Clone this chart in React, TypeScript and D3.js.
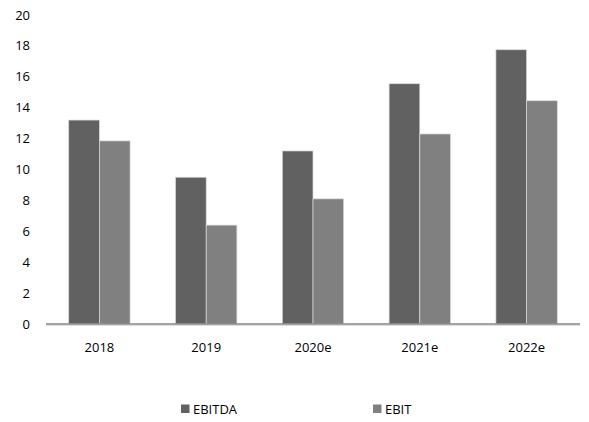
import React, { useRef, useEffect } from 'react';
import * as d3 from 'd3';

const years = ['2018', '2019', '2020e', '2021e', '2022e'];
const seriesNames = ['EBITDA', 'EBIT'];
const ebitda = [13.2, 9.5, 11.2, 15.55, 17.75];
const ebit = [11.85, 6.4, 8.1, 12.3, 14.45];
const yTicks = [0, 2, 4, 6, 8, 10, 12, 14, 16, 18, 20];
const colors = ['#616161', '#808080'];

const EarningsChart: React.FC = () => {
  const ref = useRef<SVGSVGElement>(null);

  useEffect(() => {
    if (!ref.current) return;
    const svg = d3.select(ref.current);
    svg.selectAll('*').remove();

    const width = 589;
    const height = 422;
    const font = "'Open Sans', 'Noto Sans', sans-serif";

    const x = d3.scaleBand().domain(years).range([46, 580]);
    const x1 = d3.scaleBand().domain(seriesNames).range([0, x.bandwidth()])
      .paddingInner(0).paddingOuter(0.74);
    const y = d3.scaleLinear().domain([0, 20]).range([324, 15]);

    svg.attr('width', width).attr('height', height);

    // y labels
    svg.append('g').selectAll('text').data(yTicks).enter().append('text')
      .attr('x', 30).attr('y', d => y(d)).attr('dy', '0.35em')
      .attr('text-anchor', 'end').attr('font-family', font).attr('font-size', 13)
      .attr('fill', '#000').text(d => d);

    const values = [ebitda, ebit];
    seriesNames.forEach((name, si) => {
      svg.append('g').selectAll('rect').data(years).enter().append('rect')
        .attr('x', d => (x(d) as number) + (x1(name) as number))
        .attr('y', (d, i) => y(values[si][i]))
        .attr('width', x1.bandwidth())
        .attr('height', (d, i) => y(0) - y(values[si][i]))
        .attr('fill', colors[si])
        .attr('stroke', '#d9d9d9').attr('stroke-width', 0.7);
    });

    // baseline
    svg.append('line').attr('x1', 46).attr('x2', 580).attr('y1', y(0) + 1.5).attr('y2', y(0) + 1.5)
      .attr('stroke', '#dddddd').attr('stroke-width', 1);
    svg.append('line').attr('x1', 46).attr('x2', 580).attr('y1', y(0)).attr('y2', y(0))
      .attr('stroke', '#868686').attr('stroke-width', 1.5);

    // x labels
    svg.append('g').selectAll('text').data(years).enter().append('text')
      .attr('x', d => (x(d) as number) + x.bandwidth() / 2).attr('y', 347).attr('dy', '0.35em')
      .attr('text-anchor', 'middle').attr('font-family', font).attr('font-size', 13)
      .attr('fill', '#000').text(d => d);

    // legend
    const legendX = [181, 373];
    seriesNames.forEach((name, i) => {
      const g = svg.append('g').attr('transform', `translate(${legendX[i]},409)`);
      g.append('rect').attr('x', 0).attr('y', -4.5).attr('width', 8.5).attr('height', 8.5).attr('fill', colors[i]);
      g.append('text').attr('x', 12).attr('y', 0).attr('dy', '0.35em')
        .attr('font-family', font).attr('font-size', 13).attr('fill', '#000').text(name);
    });
  }, []);

  return (
    <div style={{ position: 'absolute', left: 0, top: 0 }}>
      <svg ref={ref} style={{ display: 'block' }}></svg>
    </div>
  );
};

export default function App() {
  return <EarningsChart />;
}
